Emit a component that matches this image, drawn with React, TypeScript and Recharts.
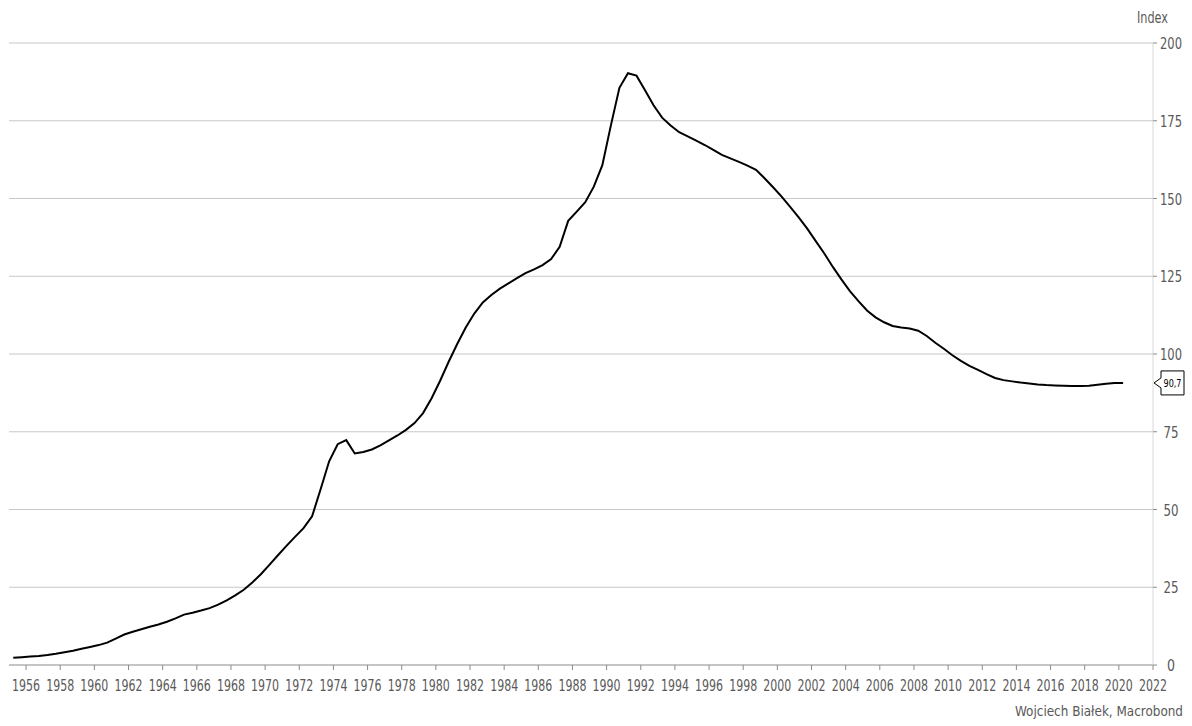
import { LineChart, Line, XAxis, YAxis, CartesianGrid, ReferenceDot } from 'recharts';

const FONT = "'DejaVu Sans Condensed', 'DejaVu Sans', sans-serif";
const TICK_COLOR = '#595959';
const DIGIT_W = 7; // reference glyphs are narrow, squeeze to this width per char

// half-year observations, first half (H1) and second half (H2) of each year
const years = [
  1955, 1956, 1957, 1958, 1959, 1960, 1961, 1962, 1963, 1964, 1965, 1966, 1967, 1968, 1969,
  1970, 1971, 1972, 1973, 1974, 1975, 1976, 1977, 1978, 1979, 1980, 1981, 1982, 1983, 1984,
  1985, 1986, 1987, 1988, 1989, 1990, 1991, 1992, 1993, 1994, 1995, 1996, 1997, 1998, 1999,
  2000, 2001, 2002, 2003, 2004, 2005, 2006, 2007, 2008, 2009, 2010, 2011, 2012, 2013, 2014,
  2015, 2016, 2017, 2018, 2019, 2020,
];
const h1 = [
  2.3, 2.7, 3.2, 4.1, 5.2, 6.4, 8.5, 10.7, 12.3, 13.9, 16.2, 17.5, 19.4, 22.4, 26.5,
  32.2, 38.3, 44.0, 56.5, 71.0, 68.0, 69.3, 72.2, 75.6, 81.0, 91.4, 103.2, 113.0, 119.0, 122.7,
  126.0, 128.6, 134.5, 145.8, 153.8, 173.5, 190.3, 184.8, 176.0, 171.3, 168.6, 165.6, 162.9, 160.6, 156.5,
  150.6, 143.9, 136.3, 128.0, 120.2, 114.0, 110.2, 108.5, 107.5, 103.6, 99.6, 96.2, 93.5, 91.6, 90.8,
  90.2, 89.9, 89.7, 89.8, 90.4, 90.7,
];
const h2 = [
  2.5, 2.9, 3.6, 4.6, 5.8, 7.2, 9.8, 11.5, 13.0, 15.0, 16.8, 18.3, 20.8, 24.2, 29.2,
  35.3, 41.2, 47.8, 65.5, 72.3, 68.5, 70.6, 73.8, 77.8, 85.8, 97.5, 108.5, 116.6, 121.0, 124.4,
  127.2, 130.5, 142.8, 148.8, 160.7, 185.6, 189.5, 180.0, 173.5, 170.0, 167.2, 164.0, 161.8, 159.2, 153.6,
  147.3, 140.3, 132.3, 124.0, 117.0, 111.8, 109.0, 108.2, 105.8, 101.7, 97.8, 94.9, 92.3, 91.2, 90.5,
  90.0, 89.8, 89.7, 90.1, 90.7,
];

const xTicks = [
  1956, 1958, 1960, 1962, 1964, 1966, 1968, 1970, 1972, 1974, 1976, 1978, 1980, 1982, 1984, 1986, 1988,
  1990, 1992, 1994, 1996, 1998, 2000, 2002, 2004, 2006, 2008, 2010, 2012, 2014, 2016, 2018, 2020, 2022,
];
const yTicks = [0, 25, 50, 75, 100, 125, 150, 175, 200];

const data: { t: number; v: number }[] = [];
years.forEach((y, i) => {
  data.push({ t: y + 0.25, v: h1[i] });
  if (h2[i] !== undefined) data.push({ t: y + 0.75, v: h2[i] });
});
const last = data[data.length - 1].v;

const XTick = (props: any) => {
  const s = String(props.payload.value);
  return (
    <text x={props.x} y={props.y} dy="0.71em" textAnchor="middle" fill={TICK_COLOR} fontSize={16} fontFamily={FONT}
      textLength={s.length * DIGIT_W} lengthAdjust="spacingAndGlyphs">
      {s}
    </text>
  );
};

const YTick = (props: any) => {
  const s = String(props.payload.value);
  return (
    <text x={props.x + 12} y={props.y} dy={6} textAnchor="middle" fill={TICK_COLOR} fontSize={16} fontFamily={FONT}
      textLength={s.length * DIGIT_W + 1} lengthAdjust="spacingAndGlyphs">
      {s}
    </text>
  );
};

const LastLabel = (props: any) => {
  const { cx, cy } = props;
  return (
    <g>
      <path
        d={`M${cx + 1},${cy} L${cx + 8},${cy - 5} L${cx + 8},${cy - 12} L${cx + 31},${cy - 12} L${cx + 31},${cy + 12} L${cx + 8},${cy + 12} L${cx + 8},${cy + 5} Z`}
        fill="#fff" stroke="#000" strokeWidth={1}
      />
      <text x={cx + 19.5} y={cy + 4} textAnchor="middle" fontSize={11} fontFamily={FONT} fill="#000"
        textLength={18} lengthAdjust="spacingAndGlyphs">
        {last.toFixed(1).replace('.', ',')}
      </text>
    </g>
  );
};

export default function App() {
  return (
    <div style={{ position: 'absolute', left: 0, top: 0, width: 1192, height: 726, background: '#fff', fontFamily: FONT }}>
      <LineChart width={1192} height={726} data={data} margin={{ top: 43, left: 9, right: 4, bottom: 31 }}>
        <CartesianGrid horizontal vertical={false} stroke="#c8c8c8" strokeWidth={1} />
        <XAxis
          dataKey="t" type="number" domain={[1955, 2022]} ticks={xTicks} interval={0}
          height={30} tickSize={5} tickMargin={10}
          axisLine={{ stroke: '#a6a6a6' }} tickLine={{ stroke: '#8c8c8c' }}
          tick={<XTick />}
        />
        <YAxis
          orientation="right" width={35} domain={[0, 200]} ticks={yTicks} interval={0}
          tickSize={4} axisLine={{ stroke: '#d9d9d9' }} tickLine={{ stroke: '#8c8c8c' }}
          tick={<YTick />}
        />
        <Line type="linear" dataKey="v" stroke="#000" strokeWidth={2} dot={false} isAnimationActive={false} />
        <ReferenceDot x={2022} y={last} shape={<LastLabel />} ifOverflow="visible" />
      </LineChart>
      <svg width={1192} height={726} style={{ position: 'absolute', left: 0, top: 0, pointerEvents: 'none' }}>
        <text x={1137} y={23} fill={TICK_COLOR} fontSize={16} fontFamily={FONT} textLength={31} lengthAdjust="spacingAndGlyphs">
          Index
        </text>
        <text x={1015} y={716} fill={TICK_COLOR} fontSize={14} fontFamily={FONT}
          textLength={168} lengthAdjust="spacingAndGlyphs">
          Wojciech Białek, Macrobond
        </text>
      </svg>
    </div>
  );
}
